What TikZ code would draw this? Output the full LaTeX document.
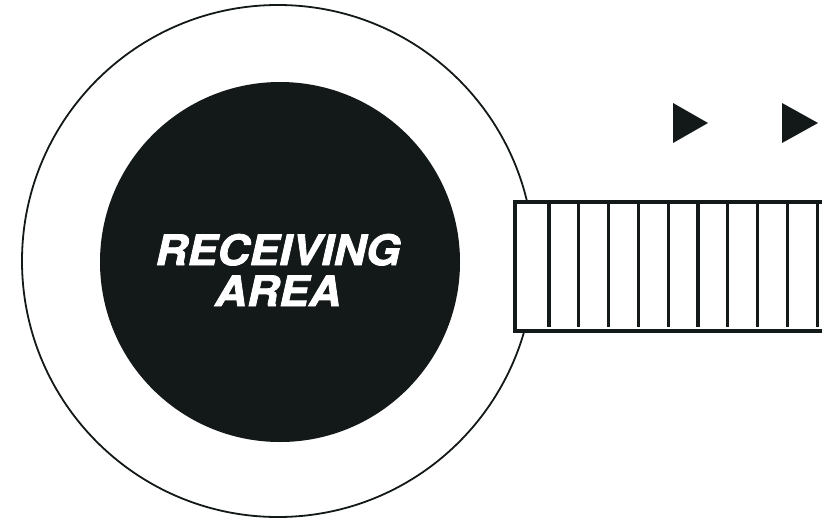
\documentclass[tikz,border=0pt]{standalone}
\usepackage{fontspec}
\setsansfont{TeX Gyre Heros}[BoldItalicFeatures={FakeBold=1.8}]
\definecolor{inkblack}{RGB}{19,25,24}

\begin{document}
\begin{tikzpicture}[x=1pt, y=-1pt]
    \useasboundingbox (0,0) rectangle (827,520);
    % outer ring and receiving area
    \draw[inkblack, line width=1.8pt] (278,261) circle (256);
    \fill[inkblack] (280,262) circle (180);
    \node[text=white, align=center, font=\sffamily\bfseries\itshape\fontsize{42}{41}\selectfont, inner sep=0pt, xscale=1.06] (area) at (278,270) {RECEIVING\\AREA};
    % conveyor
    \fill[white] (515,202) rectangle (827,331);
    \draw[inkblack, line width=3.2pt] (822,202) -- (515,202) -- (515,331) -- (822,331);
    \foreach \i in {0,...,9}
        \draw[inkblack, line width=3.2pt] ({549+29.8*\i},202) -- ({549+29.8*\i},327);
    % direction marks
    \fill[inkblack] (673,103) -- (708,123) -- (673,143) -- cycle;
    \fill[inkblack] (782,103) -- (818,123) -- (782,143) -- cycle;
\end{tikzpicture}
\end{document}
